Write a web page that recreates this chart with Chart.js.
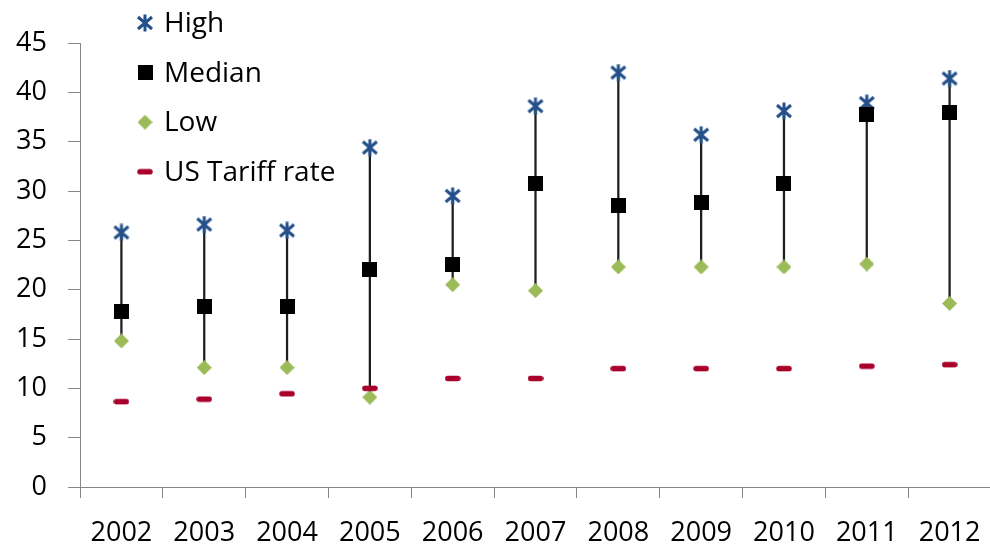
<!DOCTYPE html>
<html>
<head>
<meta charset="utf-8">
<script src="https://cdn.jsdelivr.net/npm/chart.js@4/dist/chart.umd.min.js"></script>
<style>
  html, body { margin: 0; padding: 0; background: #fff; overflow: hidden; }
  #wrap { width: 1000px; height: 547px; position: relative; }
</style>
</head>
<body>
<div id="wrap"><canvas id="chart"></canvas></div>
<script>
const years = ['2002', '2003', '2004', '2005', '2006', '2007', '2008', '2009', '2010', '2011', '2012'];
const highVals = [25.8, 26.6, 26.0, 34.4, 29.5, 38.6, 42.0, 35.7, 38.1, 38.9, 41.4];
const medianVals = [17.8, 18.3, 18.3, 22.0, 22.6, 30.8, 28.5, 28.8, 30.8, 37.8, 38.0];
const lowVals = [14.8, 12.1, 12.1, 9.1, 20.5, 19.9, 22.3, 22.3, 22.3, 22.6, 18.6];
const tariffVals = [8.65, 8.9, 9.45, 10.0, 11.0, 11.0, 12.0, 12.0, 12.0, 12.25, 12.4];
const yTicks = { min: 0, max: 45, step: 5 };

const BLUE = '#23508a';
const GREEN = '#9bbb59';
const RED = '#a8002b';

// small canvases used as marker images (chart + legend)
function makeMarker(w, h, draw) {
  const c = document.createElement('canvas');
  c.width = w; c.height = h;
  draw(c.getContext('2d'), w, h);
  return c;
}
const starImg = makeMarker(18, 18, (g, w, h) => {
  g.strokeStyle = BLUE; g.lineWidth = 3;
  g.beginPath();
  g.moveTo(2, 3); g.lineTo(w - 2, h - 3);
  g.moveTo(w - 2, 3); g.lineTo(2, h - 3);
  g.moveTo(w / 2, 0.5); g.lineTo(w / 2, h - 0.5);
  g.stroke();
});
const squareImg = makeMarker(15, 15, (g, w, h) => {
  g.fillStyle = '#000'; g.fillRect(0, 0, w, h);
});
const diamondImg = makeMarker(15, 15, (g, w, h) => {
  g.fillStyle = GREEN;
  g.beginPath();
  g.moveTo(w / 2, 0); g.lineTo(w, h / 2); g.lineTo(w / 2, h); g.lineTo(0, h / 2);
  g.closePath(); g.fill();
});
const dashImg = makeMarker(16, 7, (g, w, h) => {
  g.strokeStyle = RED; g.lineWidth = 5.5; g.lineCap = 'round';
  g.beginPath(); g.moveTo(3, h / 2); g.lineTo(w - 3, h / 2); g.stroke();
});

const legendItems = [
  { label: 'High', img: starImg },
  { label: 'Median', img: squareImg },
  { label: 'Low', img: diamondImg },
  { label: 'US Tariff rate', img: dashImg }
];

const insideLegend = {
  id: 'insideLegend',
  afterDraw(chart) {
    const ctx = chart.ctx;
    ctx.save();
    ctx.font = '28px "Open Sans"';
    ctx.fillStyle = '#000';
    ctx.textBaseline = 'middle';
    legendItems.forEach((item, i) => {
      const y = 23 + i * 49.6;
      ctx.drawImage(item.img, 145 - item.img.width / 2, y - item.img.height / 2);
      ctx.fillText(item.label, 164, y + 1);
    });
    ctx.restore();
  }
};

function pointSet(label, data, img, order) {
  return {
    type: 'line',
    label,
    data,
    showLine: false,
    pointStyle: img,
    pointRadius: 8,
    pointHoverRadius: 8,
    order
  };
}

const ctx = document.getElementById('chart').getContext('2d');
new Chart(ctx, {
  type: 'bar',
  data: {
    labels: years,
    datasets: [
      {
        type: 'bar',
        label: 'range',
        data: years.map((_, i) => [lowVals[i], highVals[i]]),
        backgroundColor: '#1e1e1e',
        barThickness: 1.6,
        order: 10
      },
      pointSet('High', highVals, starImg, 4),
      pointSet('Median', medianVals, squareImg, 3),
      pointSet('Low', lowVals, diamondImg, 2),
      pointSet('US Tariff rate', tariffVals, dashImg, 1)
    ]
  },
  options: {
    responsive: true,
    maintainAspectRatio: false,
    animation: false,
    devicePixelRatio: 1,
    layout: { padding: { top: 43, right: 7, left: 0, bottom: 0 } },
    plugins: {
      legend: { display: false },
      tooltip: { enabled: false }
    },
    scales: {
      x: {
        offset: true,
        grid: { offset: true, drawOnChartArea: false, tickLength: 11, color: '#868686' },
        border: { color: '#868686', width: 1 },
        ticks: {
          color: '#000',
          font: { family: '"Open Sans"', size: 27 },
          padding: 19,
          maxRotation: 0,
          autoSkip: false
        },
        afterFit(scale) { scale.height = 60; }
      },
      y: {
        min: yTicks.min,
        max: yTicks.max,
        grid: { drawOnChartArea: false, tickLength: 12, color: '#868686' },
        border: { color: '#868686', width: 1 },
        ticks: {
          stepSize: yTicks.step,
          color: '#000',
          font: { family: '"Open Sans"', size: 27 },
          padding: 21
        },
        afterFit(scale) { scale.width = 80; }
      }
    }
  },
  plugins: [insideLegend]
});
</script>
</body>
</html>
